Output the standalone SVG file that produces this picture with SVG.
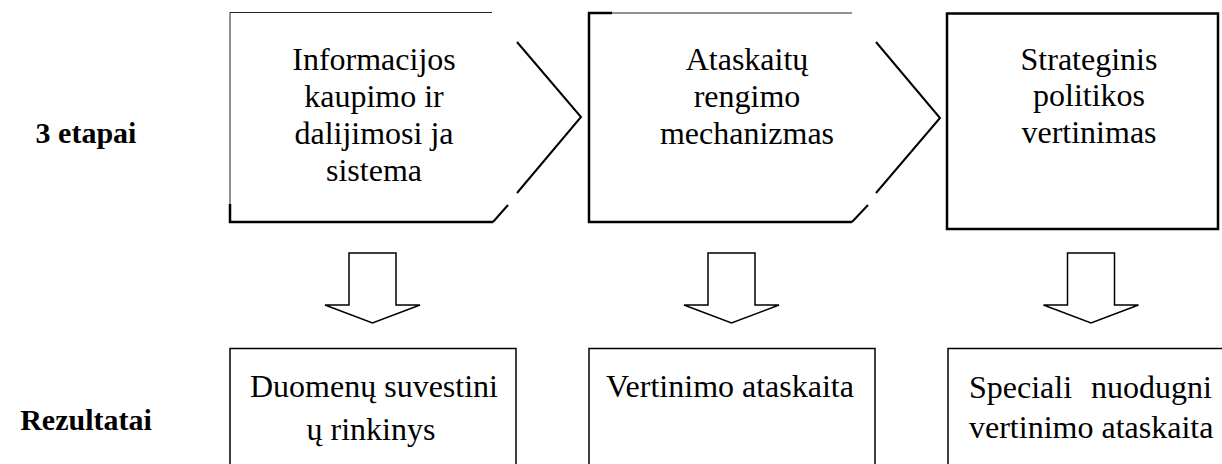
<svg xmlns="http://www.w3.org/2000/svg" width="1222" height="464" viewBox="0 0 1222 464">
<style>
  text { font-family: "Liberation Serif", "DejaVu Serif", "Noto Serif", "Times New Roman", Times, serif; }
  .t { font-size: 32px; fill: #000; text-anchor: middle; }
  .tl { font-size: 32px; fill: #000; }
  .lab { font-size: 30px; font-weight: bold; fill: #000; text-anchor: middle; }
  .thin { stroke: #222; stroke-width: 1; fill: none; }
  .thick { stroke: #000; stroke-width: 2.5; fill: none; }
  .mid { stroke: #000; stroke-width: 2; fill: none; }
  .box { stroke: #000; stroke-width: 1.5; fill: #fff; }
  .arrow { stroke: #000; stroke-width: 1.5; fill: #fff; stroke-linejoin: miter; }
</style>
<rect width="1222" height="464" fill="#fff"/>

<g id="label-etapai"><text class="lab" x="86" y="143" font-family="Liberation Serif, serif">3 etapai</text></g>
<g id="label-rezultatai"><text class="lab" x="86" y="430" font-family="Liberation Serif, serif">Rezultatai</text></g>

<g id="stage1" font-family="Liberation Serif, serif">
  <line class="thin" x1="230" y1="12.5" x2="492" y2="12.5"/>
  <line class="thin" x1="230" y1="12" x2="230" y2="205"/>
  <line class="thick" x1="230" y1="204" x2="230" y2="223"/>
  <line class="thick" x1="229" y1="222" x2="493" y2="222"/>
  <line class="mid" x1="493" y1="222" x2="508" y2="205"/>
  <polyline class="mid" points="517,193 581,117 517,42"/>
  <text class="t" x="374" y="70">Informacijos</text>
  <text class="t" x="374" y="107">kaupimo ir</text>
  <text class="t" x="374" y="144">dalijimosi ja</text>
  <text class="t" x="374" y="181">sistema</text>
</g>

<g id="stage2">
  <line class="thick" x1="588" y1="13" x2="612" y2="13"/>
  <line class="thin" x1="612" y1="13" x2="852" y2="13"/>
  <line class="thick" x1="589" y1="12" x2="589" y2="223"/>
  <line class="thick" x1="588" y1="222" x2="852" y2="222"/>
  <line class="mid" x1="852" y1="222" x2="868" y2="205"/>
  <polyline class="mid" points="876,193 940,118 876,42"/>
  <text class="t" x="747" y="70">Ataskaitų</text>
  <text class="t" x="747" y="107">rengimo</text>
  <text class="t" x="747" y="144">mechanizmas</text>
</g>

<g id="stage3">
  <rect class="thick" x="947" y="13.5" width="271" height="215.5"/>
  <text class="t" x="1089" y="70">Strateginis</text>
  <text class="t" x="1089" y="106">politikos</text>
  <text class="t" x="1089" y="143">vertinimas</text>
</g>

<g id="connectors">
  <polygon class="arrow" points="349,253 396,253 396,305 420,305 372.5,323 325,305 349,305"/>
  <polygon class="arrow" points="708,253 755,253 755,305 779,305 731.5,323 684,305 708,305"/>
  <polygon class="arrow" points="1067.5,253 1114.5,253 1114.5,305 1138.5,305 1091,323 1043.5,305 1067.5,305"/>
</g>

<g id="result1">
  <rect class="box" x="230" y="348.5" width="286" height="130"/>
  <text class="t" x="374" y="397">Duomenų suvestini</text>
  <text class="t" x="371" y="440">ų rinkinys</text>
</g>

<g id="result2">
  <rect class="box" x="589" y="348.5" width="286" height="130"/>
  <text class="t" x="730" y="397">Vertinimo ataskaita</text>
</g>

<g id="result3">
  <rect class="box" x="948" y="348.5" width="286" height="130"/>
  <text class="tl" x="969" y="398">Speciali</text>
  <text class="tl" x="1212" y="398" text-anchor="end">nuodugni</text>
  <text class="tl" x="969" y="438">vertinimo ataskaita</text>
</g>
</svg>
